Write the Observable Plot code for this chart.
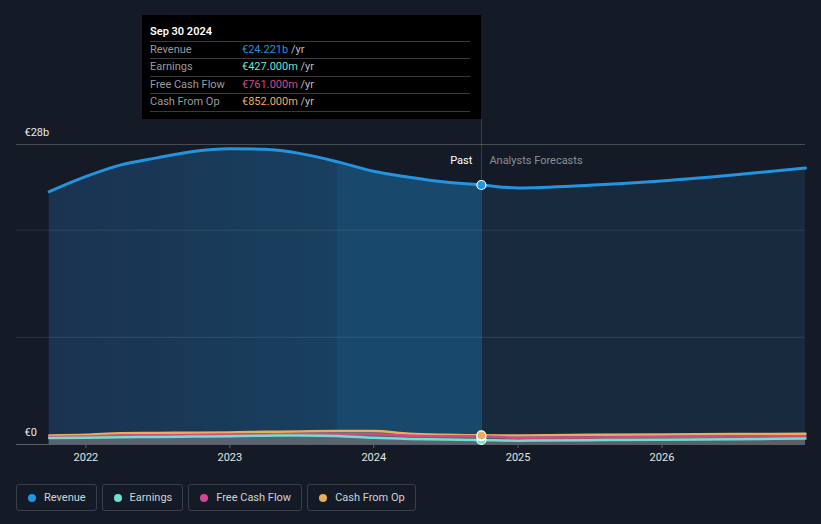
<!DOCTYPE html>
<html>
<head>
<meta charset="utf-8">
<script src="https://cdn.jsdelivr.net/npm/d3@7"></script>
<script src="https://cdn.jsdelivr.net/npm/@observablehq/plot@0.6"></script>
<style>
  html, body { margin: 0; padding: 0; background: #151b26; }
  body { width: 821px; height: 524px; overflow: hidden; font-family: Roboto, "Open Sans", sans-serif; }
  #wrap { position: relative; width: 821px; height: 524px; }
  #chart { position: absolute; left: 0; top: 0; }
  #tip { position: absolute; left: 142px; top: 15px; width: 339px; height: 104px; background: #000; box-sizing: border-box; padding: 10px 11px 0 8px; color: #fff; font-size: 11px; }
  #tip .hd { font-weight: 600; height: 16px; line-height: 14px; border-bottom: 1px solid #3a3a3a; }
  #tip .row { display: flex; height: 17.4px; line-height: 16px; border-bottom: 1px solid #3a3a3a; box-sizing: border-box; }
  #tip .lab { width: 92px; color: #9a9a9a; }
  #tip .val span.u { color: #bdbdbd; }
  #legend { position: absolute; left: 16px; top: 484px; display: flex; gap: 5px; }
  #legend .item { display: flex; align-items: center; height: 27px; box-sizing: border-box; border: 1px solid #3a404b; border-radius: 3px; padding: 0 10px 0 11px; color: #cfd2d6; font-size: 11px; }
  #legend .dot { width: 8px; height: 8px; border-radius: 50%; margin-right: 8px; }
</style>
</head>
<body>
<div id="wrap">
  <div id="chart"></div>
  <div id="tip"></div>
  <div id="legend"></div>
</div>
<script>
// ---- data (values in € billions) ----
const pastDates = ["2021-09-30","2021-12-31","2022-03-31","2022-06-30","2022-09-30","2022-12-31","2023-03-31","2023-06-30","2023-09-30","2023-12-31","2024-03-31","2024-06-30","2024-09-30"];
const revenuePast  = [23.6, 25.0, 26.1, 26.75, 27.35, 27.6, 27.55, 27.15, 26.4, 25.5, 24.95, 24.5, 24.221];
const earningsPast = [0.60, 0.62, 0.68, 0.70, 0.74, 0.78, 0.82, 0.84, 0.80, 0.62, 0.52, 0.47, 0.427];
const fcfPast      = [0.70, 0.74, 0.84, 0.86, 0.88, 0.92, 0.95, 0.98, 0.97, 0.95, 0.82, 0.77, 0.761];
const cfoPast      = [0.84, 0.90, 1.05, 1.08, 1.10, 1.13, 1.18, 1.22, 1.25, 1.25, 1.00, 0.90, 0.852];

const fcDates      = ["2024-09-30","2024-12-31","2025-06-30","2025-12-31","2026-06-30","2026-12-31"];
const revenueFc    = [24.221, 23.95, 24.2, 24.6, 25.15, 25.8];
const earningsFc   = [0.427, 0.36, 0.40, 0.45, 0.50, 0.55];
const fcfFc        = [0.761, 0.62, 0.66, 0.70, 0.74, 0.78];
const cfoFc        = [0.852, 0.85, 0.90, 0.94, 0.97, 1.00];

const seriesNames  = ["Revenue", "Earnings", "Free Cash Flow", "Cash From Op"];
const seriesColors = ["#2394df", "#6fe0cf", "#cf4a8d", "#e9ad5e"];
const tipValues    = ["€24.221b", "€427.000m", "€761.000m", "€852.000m"];
const tipDate      = "Sep 30 2024";
const yTicks       = [0, 28];
const yTickLabels  = ["€0", "€28b"];
const gridValues   = [10, 20];
const tickYears    = ["2022", "2023", "2024", "2025", "2026"];
const xDomain      = ["2021-07-09", "2026-12-31"];
const highlightStart = "2023-09-30";
const divider      = "2024-09-30";

// ---- build tables ----
const P = d3.utcParse("%Y-%m-%d");
const past = pastDates.map((d, i) => ({date: P(d), rev: revenuePast[i], earn: earningsPast[i], fcf: fcfPast[i], cfo: cfoPast[i]}));
const fc = fcDates.map((d, i) => ({date: P(d), rev: revenueFc[i], earn: earningsFc[i], fcf: fcfFc[i], cfo: cfoFc[i]}));
const all = past.concat(fc.slice(1));
const hl = past.filter(d => d.date >= P(highlightStart));
const divDate = P(divider);
const lastPast = past[past.length - 1];

const curve = "monotone-x";

const gradient = () => {
  const defs = d3.create("svg:defs");
  const g = defs.append("linearGradient").attr("id", "pastGrad").attr("x1", "0").attr("x2", "1").attr("y1", "0").attr("y2", "0");
  g.append("stop").attr("offset", "0%").attr("stop-color", "#1a3350");
  g.append("stop").attr("offset", "100%").attr("stop-color", "#174667");
  return defs.node();
};

const chart = Plot.plot({
  width: 821,
  height: 475,
  marginTop: 144,
  marginBottom: 31,
  marginLeft: 16,
  marginRight: 16,
  style: {background: "transparent", fontFamily: "Roboto, sans-serif", fontSize: "11px", color: "#e4e4e4"},
  x: {type: "utc", domain: xDomain.map(P)},
  y: {domain: [0, 28], axis: null},
  marks: [
    gradient,
    Plot.areaY(past, {x: "date", y: "rev", fill: "url(#pastGrad)", curve}),
    Plot.areaY(hl, {x: "date", y: "rev", fill: "#18496c", curve}),
    Plot.areaY(fc, {x: "date", y: "rev", fill: "#182a3d", curve}),
    Plot.ruleY(gridValues, {stroke: "#ffffff", strokeOpacity: 0.1}),
    Plot.ruleY([28], {stroke: "#ffffff", strokeOpacity: 0.22}),
    Plot.ruleX([divDate], {stroke: "#ffffff", strokeOpacity: 0.15, insetTop: -25}),
    // small series fills
    Plot.areaY(all, {x: "date", y: "cfo", fill: "#6a6e76", fillOpacity: 0.55, curve}),
    Plot.areaY(all, {x: "date", y: "fcf", fill: "#6a6e76", fillOpacity: 0.35, curve}),
    Plot.areaY(all, {x: "date", y: "earn", fill: "#6a6e76", fillOpacity: 0.35, curve}),
    Plot.ruleY([0], {stroke: "#5a5f69"}),
    Plot.lineY(all, {x: "date", y: "cfo", stroke: seriesColors[3], strokeWidth: 2.5, curve}),
    Plot.lineY(all, {x: "date", y: "fcf", stroke: seriesColors[2], strokeWidth: 2.5, curve}),
    Plot.lineY(all, {x: "date", y: "earn", stroke: seriesColors[1], strokeWidth: 2.5, curve}),
    Plot.lineY(all, {x: "date", y: "rev", stroke: seriesColors[0], strokeWidth: 3, curve}),
    Plot.dot([lastPast], {x: "date", y: "earn", r: 4.5, fill: seriesColors[1], stroke: "#fff", strokeWidth: 1.2}),
    Plot.dot([lastPast], {x: "date", y: "fcf", r: 4.5, fill: seriesColors[2], stroke: "#fff", strokeWidth: 1.2}),
    Plot.dot([lastPast], {x: "date", y: "cfo", r: 4.5, fill: seriesColors[3], stroke: "#fff", strokeWidth: 1.2}),
    Plot.dot([lastPast], {x: "date", y: "rev", r: 4.5, fill: seriesColors[0], stroke: "#fff", strokeWidth: 1.2}),
    Plot.text(["Past"], {x: [divDate], frameAnchor: "top", dy: 12, dx: -9, textAnchor: "end", fill: "#ffffff", fontSize: 11}),
    Plot.text(["Analysts Forecasts"], {x: [divDate], frameAnchor: "top", dy: 12, dx: 8, textAnchor: "start", fill: "#8a8f97", fontSize: 11}),
    Plot.text(yTicks, {y: d => d, text: (d, i) => yTickLabels[i], frameAnchor: "left", dx: 8, dy: -12, textAnchor: "start", fill: "#e8e8e8", fontSize: 11}),
    Plot.axisX({ticks: tickYears.map(y => d3.utcParse("%Y")(y)), tickFormat: d3.utcFormat("%Y"), tickSize: 4, tickPadding: 5, stroke: "#5a5f69", fill: "#e4e4e4", fontSize: 11, label: null})
  ]
});
document.getElementById("chart").appendChild(chart);

// ---- tooltip ----
const tip = document.getElementById("tip");
let html = `<div class="hd">${tipDate}</div>`;
seriesNames.forEach((n, i) => {
  html += `<div class="row"><div class="lab">${n}</div><div class="val"><span style="color:${seriesColors[i]}">${tipValues[i]}</span> <span class="u">/yr</span></div></div>`;
});
tip.innerHTML = html;

// ---- legend ----
const legend = document.getElementById("legend");
seriesNames.forEach((n, i) => {
  const it = document.createElement("div");
  it.className = "item";
  it.innerHTML = `<span class="dot" style="background:${seriesColors[i]}"></span>${n}`;
  legend.appendChild(it);
});
</script>
</body>
</html>
